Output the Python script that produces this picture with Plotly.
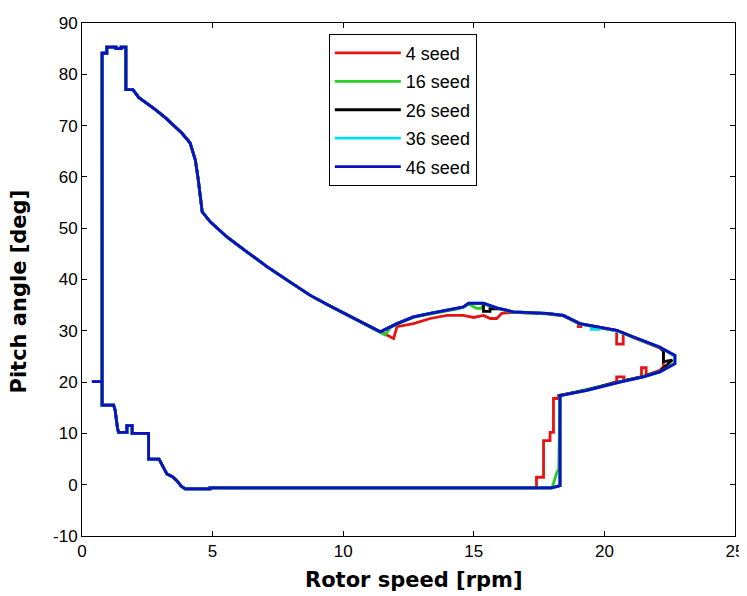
import plotly.graph_objects as go

# ---------------- data ----------------
# shared left / upper branch (all seeds nearly identical)
upper_x = [0.38, 0.77, 0.77, 0.95, 0.95, 1.30, 1.30, 1.50, 1.50, 1.68, 1.68, 1.95, 2.17, 2.50,
           2.81, 3.20, 3.51, 3.83, 4.14, 4.34, 4.45, 4.53, 4.60, 4.91, 5.55, 6.31, 7.08, 7.97,
           8.74, 9.44, 11.42]
upper_y = [20.1, 20.1, 84.1, 84.1, 85.3, 85.3, 85.0, 85.0, 85.3, 85.3, 77.0, 77.0, 75.5, 74.3,
           73.1, 71.5, 70.1, 68.5, 66.6, 63.3, 59.5, 56.1, 53.2, 51.25, 48.3, 45.4, 42.5, 39.5,
           36.9, 35.0, 29.8]

# shared bottom / lower-left branch
lower_x = [4.90, 4.90, 3.95, 3.80, 3.63, 3.45, 3.25, 3.05, 2.95, 2.55, 2.55, 1.92, 1.92, 1.72,
           1.72, 1.40, 1.36, 1.32, 1.27, 1.21, 0.77, 0.77]
lower_y = [-0.6, -0.8, -0.8, -0.3, 0.8, 1.6, 2.1, 4.0, 5.0, 5.0, 10.0, 10.0, 11.5, 11.5,
           10.2, 10.2, 11.0, 12.5, 14.5, 15.5, 15.5, 20.1]

# seed-specific hump / tip / right-hand branch
seed4_x = [11.93, 12.06, 12.69, 13.33, 13.97, 14.60, 14.99, 15.37, 15.63, 15.88, 16.07, 16.52,
           17.80, 18.43, 19.00, 19.00, 19.10, 19.10, 20.47, 20.47, 20.72, 20.72, 21.10, 22.13,
           22.26, 22.26, 22.13, 21.60, 21.60, 21.42, 21.42, 20.75, 20.75, 20.47, 20.47, 19.33,
           18.37, 18.24, 18.24, 18.05, 18.05, 17.92, 17.92, 17.67, 17.67, 17.40, 17.40]
seed4_y = [28.5, 30.8, 31.4, 32.4, 33.0, 33.0, 32.6, 33.0, 32.4, 32.4, 33.4, 33.6,
           33.3, 32.9, 31.6, 30.8, 30.8, 31.3, 30.0, 27.4, 27.4, 29.6, 28.7, 26.6,
           26.0, 23.0, 22.3, 21.3, 22.8, 22.8, 21.0, 20.3, 21.0, 21.0, 20.1, 18.4,
           17.4, 17.4, 16.8, 16.8, 10.2, 10.2, 8.6, 8.6, 1.45, 1.45, -0.6]

seed16_x = [11.60, 11.80, 12.06, 12.69, 13.33, 13.97, 14.35, 14.60, 14.80, 15.10, 15.30, 15.37,
            16.00, 16.52, 17.80, 18.43, 19.06, 20.47, 21.10, 22.13, 22.70, 22.70, 22.13, 21.50,
            20.60, 19.33, 18.37, 18.30, 18.25, 18.18, 18.00]
seed16_y = [29.2, 30.6, 31.3, 32.6, 33.3, 33.9, 34.2, 34.6, 35.2, 34.4, 34.4, 35.2,
            34.2, 33.6, 33.3, 32.9, 31.3, 30.0, 28.7, 26.7, 25.1, 23.7, 22.1, 21.1,
            20.1, 18.5, 17.4, 17.4, 3.0, 2.4, -0.6]

seed26_x = [12.06, 12.69, 13.33, 13.97, 14.60, 14.80, 15.37, 15.37, 15.62, 15.62, 16.00, 16.52,
            17.80, 18.43, 19.06, 20.47, 21.10, 22.13, 22.26, 22.26, 22.60, 22.13, 21.50, 20.60,
            19.33, 18.37, 18.30, 18.30, 17.98]
seed26_y = [31.4, 32.7, 33.4, 34.0, 34.6, 35.3, 35.3, 33.8, 33.8, 34.3, 34.3, 33.7,
            33.4, 33.0, 31.4, 30.1, 28.8, 26.8, 26.1, 24.0, 24.3, 22.1, 21.1, 20.1,
            18.5, 17.4, 17.4, -0.2, -0.6]

seed36_x = [12.06, 12.69, 13.33, 13.97, 14.60, 14.80, 15.37, 16.00, 16.52, 17.80, 18.43, 19.06,
            19.50, 19.50, 19.80, 19.80, 20.47, 21.10, 22.13, 22.70, 22.70, 22.13, 21.50, 20.60,
            19.33, 18.37, 18.30, 18.30, 17.98]
seed36_y = [31.4, 32.7, 33.4, 34.0, 34.6, 35.4, 35.4, 34.3, 33.7, 33.4, 33.0, 31.4,
            30.9, 30.3, 30.3, 30.7, 30.0, 28.8, 26.8, 25.2, 23.6, 22.0, 21.0, 20.0,
            18.4, 17.4, 17.4, -0.2, -0.6]

seed46_x = [12.06, 12.69, 13.33, 13.97, 14.60, 14.80, 15.37, 16.00, 16.52, 17.80, 18.43, 19.06,
            20.47, 21.10, 22.13, 22.70, 22.70, 22.13, 21.50, 20.60, 19.33, 18.37, 18.30, 18.30,
            17.98]
seed46_y = [31.4, 32.7, 33.4, 34.0, 34.65, 35.4, 35.4, 34.3, 33.7, 33.4, 33.0, 31.4,
            30.1, 28.8, 26.8, 25.2, 23.6, 22.0, 21.0, 20.0, 18.4, 17.4, 17.4, -0.2,
            -0.6]

series_names = ["4 seed", "16 seed", "26 seed", "36 seed", "46 seed"]
series_x = [seed4_x, seed16_x, seed26_x, seed36_x, seed46_x]
series_y = [seed4_y, seed16_y, seed26_y, seed36_y, seed46_y]
series_colors = ["rgb(228,20,20)", "rgb(40,205,40)", "rgb(0,0,0)", "rgb(0,225,235)", "rgb(15,15,190)"]

x_ticks = [0, 5, 10, 15, 20, 25]
y_ticks = [-10, 0, 10, 20, 30, 40, 50, 60, 70, 80, 90]

# ---------------- figure ----------------
fig = go.Figure()
for i, (name, sx, sy, col) in enumerate(zip(series_names, series_x, series_y, series_colors)):
    fig.add_trace(go.Scatter(
        x=upper_x + sx + lower_x,
        y=upper_y + sy + lower_y,
        mode="lines",
        name=name,
        legendgroup=f"g{i}",
        line=dict(color=col, width=2.8),
    ))

axis_common = dict(
    showgrid=False, zeroline=False, showline=True, linecolor="black", linewidth=1,
    mirror="allticks", ticks="inside", ticklen=5, tickcolor="black", tickwidth=1,
    automargin=False,
    tickfont=dict(family="Liberation Sans, Arial, sans-serif", size=17, color="black"),
)

fig.update_xaxes(range=[0, 25], tickvals=x_ticks, ticktext=[str(v) for v in x_ticks], **axis_common)
fig.update_yaxes(range=[-10, 90], tickvals=y_ticks, ticktext=[str(v) for v in y_ticks], **axis_common)

# the page body adds an 8 px offset, so the figure is sized to fit the window
fig.update_layout(
    width=739, height=588,
    margin=dict(l=74, r=12, t=15, b=60),
    paper_bgcolor="white", plot_bgcolor="white",
    showlegend=True,
    legend=dict(
        x=0.378, y=0.979, xanchor="left", yanchor="top",
        bgcolor="white", bordercolor="black", borderwidth=1,
        font=dict(family="Liberation Sans, Arial, sans-serif", size=18, color="black"),
        tracegroupgap=2, itemwidth=66, entrywidth=80, entrywidthmode="pixels",
    ),
    annotations=[
        dict(text="<b>Rotor speed [rpm]</b>", x=0.5, y=0, xref="paper", yref="paper",
             xanchor="center", yanchor="top", yshift=-30, xshift=5, showarrow=False,
             font=dict(family="DejaVu Sans, sans-serif", size=21, color="black")),
        dict(text="<b>Pitch angle [deg]</b>", x=0, y=0.5, xref="paper", yref="paper",
             xanchor="right", yanchor="middle", xshift=-50, yshift=-12, textangle=-90, showarrow=False,
             font=dict(family="DejaVu Sans, sans-serif", size=21, color="black")),
    ],
)

fig.write_html("out.html")
